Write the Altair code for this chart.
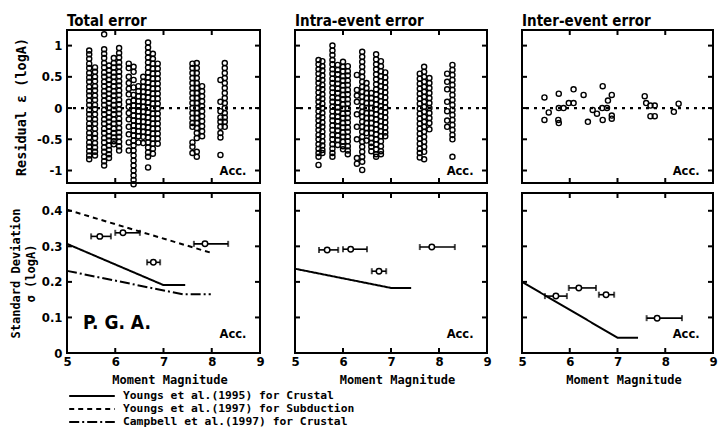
import altair as alt
import pandas as pd

# ---------------- data ----------------
X_TICKS = [6, 7, 8]
X_LABELS = [5, 6, 7, 8, 9]
RESID_TICKS = [-1, -0.5, 0, 0.5, 1]
SD_TICKS = [0.1, 0.2, 0.3, 0.4]
SD_LABELS = [0, 0.1, 0.2, 0.3, 0.4]

# Total error residuals: (moment magnitude, residuals)
TOTAL_COLUMNS = [
    (5.46, [0.92, 0.86, 0.79, 0.71, 0.64, 0.56, 0.49, 0.42, 0.34, 0.27, 0.2, 0.12, 0.05, -0.03, -0.1, -0.17, -0.25, -0.32, -0.4, -0.47, -0.55, -0.62, -0.69, -0.76, -0.82]),
    (5.58, [0.65, 0.58, 0.5, 0.43, 0.35, 0.28, 0.2, 0.13, 0.05, -0.02, -0.1, -0.18, -0.25, -0.33, -0.41, -0.48, -0.56, -0.63, -0.7, -0.76]),
    (5.77, [1.18, 0.94, 0.87, 0.8, 0.72, 0.65, 0.57, 0.5, 0.42, 0.35, 0.27, 0.2, 0.12, 0.05, -0.03, -0.1, -0.18, -0.25, -0.33, -0.4, -0.48, -0.55, -0.63, -0.7, -0.78, -0.85, -0.92]),
    (5.87, [0.68, 0.6, 0.53, 0.45, 0.38, 0.3, 0.23, 0.15, 0.08, 0.0, -0.07, -0.15, -0.22, -0.3, -0.37, -0.45, -0.52, -0.6, -0.67, -0.74, -0.8]),
    (5.97, [0.8, 0.72, 0.65, 0.57, 0.5, 0.42, 0.35, 0.27, 0.2, 0.12, 0.05, -0.03, -0.1, -0.18, -0.25, -0.33, -0.4, -0.47, -0.53, -0.58]),
    (6.08, [0.96, 0.88, 0.81, 0.73, 0.66, 0.58, 0.51, 0.43, 0.36, 0.28, 0.21, 0.13, 0.06, -0.02, -0.09, -0.17, -0.24, -0.32, -0.39, -0.46, -0.54, -0.61, -0.68]),
    (6.28, [0.71, 0.64, 0.5, 0.4, 0.31, 0.22, 0.1, 0.02, -0.08, -0.18, -0.3, -0.42, -0.55, -0.68]),
    (6.38, [0.66, 0.58, 0.45, 0.33, 0.21, 0.12, 0.04, -0.04, -0.12, -0.2, -0.28, -0.36, -0.44, -0.52, -0.6, -0.68, -0.76, -0.84, -0.92, -1.0, -1.08, -1.15, -1.22]),
    (6.48, [0.35, 0.27, 0.19, 0.11, 0.03, -0.05, -0.13, -0.21, -0.29, -0.37, -0.45, -0.55]),
    (6.58, [0.5, 0.42, 0.34, 0.26, 0.18, 0.1, 0.02, -0.06, -0.14, -0.22, -0.3, -0.38, -0.46, -0.56]),
    (6.68, [1.05, 0.97, 0.89, 0.81, 0.73, 0.65, 0.57, 0.49, 0.41, 0.33, 0.25, 0.17, 0.09, 0.01, -0.07, -0.15, -0.23, -0.31, -0.39, -0.47, -0.55, -0.63, -0.71, -0.78, -0.95]),
    (6.78, [0.87, 0.79, 0.71, 0.63, 0.55, 0.47, 0.39, 0.31, 0.23, 0.15, 0.07, -0.01, -0.09, -0.17, -0.25, -0.33, -0.41, -0.49, -0.57, -0.65, -0.73]),
    (6.88, [0.71, 0.63, 0.55, 0.47, 0.39, 0.31, 0.23, 0.15, 0.07, -0.01, -0.09, -0.17, -0.25, -0.33, -0.41, -0.49, -0.57]),
    (7.60, [0.71, 0.64, 0.56, 0.48, 0.4, 0.32, 0.24, 0.16, 0.08, 0.0, -0.08, -0.16, -0.24, -0.3, -0.55, -0.62, -0.72]),
    (7.69, [0.72, 0.64, 0.56, 0.48, 0.4, 0.32, 0.24, 0.16, 0.08, 0.0, -0.08, -0.16, -0.24, -0.32, -0.4, -0.48, -0.7, -0.78]),
    (7.80, [0.35, 0.27, 0.19, 0.11, 0.03, -0.05, -0.13, -0.21, -0.29, -0.37, -0.45]),
    (8.18, [0.45, 0.1, -0.05, -0.15, -0.22, -0.3, -0.4, -0.47, -0.75]),
    (8.27, [0.72, 0.64, 0.56, 0.48, 0.4, 0.32, 0.24, 0.16, 0.08, 0.0, -0.08, -0.15, -0.22, -0.3]),
]

# Intra-event residuals
INTRA_COLUMNS = [
    (5.49, [0.77, 0.7, 0.62, 0.55, 0.47, 0.4, 0.32, 0.25, 0.17, 0.1, 0.02, -0.05, -0.13, -0.2, -0.28, -0.35, -0.43, -0.5, -0.58, -0.65, -0.72, -0.78, -0.91]),
    (5.57, [0.75, 0.67, 0.6, 0.52, 0.45, 0.37, 0.3, 0.22, 0.15, 0.07, 0.0, -0.08, -0.15, -0.23, -0.3, -0.38, -0.45, -0.53, -0.6, -0.67, -0.72]),
    (5.78, [1.0, 0.92, 0.85, 0.77, 0.7, 0.62, 0.55, 0.47, 0.4, 0.32, 0.25, 0.17, 0.1, 0.02, -0.05, -0.13, -0.2, -0.28, -0.35, -0.43, -0.5, -0.58, -0.65, -0.72, -0.78]),
    (5.89, [0.69, 0.61, 0.54, 0.46, 0.39, 0.31, 0.24, 0.16, 0.09, 0.01, -0.06, -0.14, -0.21, -0.29, -0.36, -0.44, -0.51, -0.59]),
    (6.00, [0.74, 0.66, 0.59, 0.51, 0.44, 0.36, 0.29, 0.21, 0.14, 0.06, -0.01, -0.09, -0.16, -0.24, -0.31, -0.39, -0.46, -0.54, -0.61, -0.66]),
    (6.10, [0.67, 0.59, 0.52, 0.44, 0.37, 0.29, 0.22, 0.14, 0.07, -0.01, -0.08, -0.16, -0.23, -0.31, -0.38, -0.46, -0.53, -0.61, -0.68, -0.74]),
    (6.29, [0.53, 0.29, 0.2, 0.1, -0.1, -0.3, -0.5, -0.8, -0.89]),
    (6.40, [0.9, 0.82, 0.74, 0.66, 0.58, 0.5, 0.42, 0.34, 0.26, 0.18, 0.1, 0.02, -0.06, -0.14, -0.22, -0.3, -0.38, -0.46, -0.54, -0.62, -0.7, -0.78, -0.86, -0.99]),
    (6.49, [0.4, 0.32, 0.24, 0.16, 0.08, 0.0, -0.08, -0.16, -0.24, -0.32, -0.4, -0.52]),
    (6.59, [0.24, 0.16, 0.08, 0.0, -0.08, -0.16, -0.24, -0.32, -0.4, -0.48, -0.56, -0.62, -0.69]),
    (6.69, [0.86, 0.78, 0.7, 0.62, 0.54, 0.46, 0.38, 0.3, 0.22, 0.14, 0.06, -0.02, -0.1, -0.18, -0.26, -0.34, -0.42, -0.5, -0.58, -0.66, -0.74, -0.78]),
    (6.79, [0.75, 0.67, 0.59, 0.51, 0.43, 0.35, 0.27, 0.19, 0.11, 0.03, -0.05, -0.13, -0.21, -0.29, -0.37, -0.45, -0.53, -0.61, -0.69, -0.74]),
    (6.88, [0.57, 0.49, 0.41, 0.33, 0.25, 0.17, 0.09, 0.01, -0.07, -0.15, -0.23, -0.31, -0.39, -0.45]),
    (7.60, [0.55, 0.47, 0.39, 0.31, 0.23, 0.15, 0.07, -0.01, -0.09, -0.17, -0.25, -0.33, -0.41, -0.49, -0.57, -0.65, -0.72, -0.79]),
    (7.69, [0.66, 0.58, 0.5, 0.42, 0.34, 0.26, 0.18, 0.1, 0.02, -0.06, -0.14, -0.22, -0.3, -0.38, -0.46, -0.54, -0.62, -0.7, -0.82]),
    (7.80, [0.48, 0.4, 0.32, 0.24, 0.16, 0.08, 0.0, -0.08, -0.16, -0.24, -0.34]),
    (8.17, [0.55, 0.42, 0.3, 0.1, -0.05, -0.2, -0.3]),
    (8.28, [0.69, 0.61, 0.53, 0.45, 0.37, 0.29, 0.21, 0.13, 0.05, -0.03, -0.11, -0.19, -0.27, -0.35, -0.43, -0.5, -0.78]),
]

# Inter-event residuals
INTER_MAG = [5.47, 5.47, 5.56, 5.77, 5.77, 5.76, 5.77, 5.87, 5.98, 6.08, 6.08, 6.29, 6.38, 6.48,
             6.57, 6.68, 6.69, 6.69, 6.78, 6.80, 6.88, 6.88, 6.88, 7.57, 7.60, 7.69, 7.78, 7.69,
             7.78, 8.18, 8.28]
INTER_RESID = [0.17, -0.19, -0.07, 0.23, 0.0, -0.19, -0.24, 0.0, 0.08, 0.3, 0.08, 0.21, -0.22, -0.03,
               -0.09, 0.0, 0.35, -0.19, 0.0, 0.12, 0.21, -0.12, -0.17, 0.19, 0.08, 0.04, 0.04, -0.13,
               -0.13, -0.06, 0.07]

# Standard deviations with magnitude ranges
TOTAL_SD_MAG = [5.68, 6.16, 6.79, 7.86]
TOTAL_SD_LO = [5.50, 6.00, 6.66, 7.63]
TOTAL_SD_HI = [5.91, 6.51, 6.93, 8.34]
TOTAL_SD = [0.328, 0.338, 0.255, 0.307]

INTRA_SD_MAG = [5.67, 6.16, 6.75, 7.85]
INTRA_SD_LO = [5.50, 6.00, 6.60, 7.60]
INTRA_SD_HI = [5.90, 6.50, 6.90, 8.33]
INTRA_SD = [0.29, 0.292, 0.23, 0.298]

INTER_SD_MAG = [5.71, 6.19, 6.76, 7.83]
INTER_SD_LO = [5.48, 5.98, 6.61, 7.61]
INTER_SD_HI = [5.94, 6.55, 6.93, 8.35]
INTER_SD = [0.16, 0.183, 0.164, 0.098]

# Published models
MODEL_NAMES = ["Youngs et al.(1995) for Crustal",
               "Youngs et al.(1997) for Subduction",
               "Campbell et al.(1997) for Crustal"]
Y95_TOTAL_MAG = [5.0, 7.0, 7.45]
Y95_TOTAL_SD = [0.307, 0.191, 0.191]
Y97_MAG = [5.0, 8.03]
Y97_SD = [0.403, 0.28]
C97_MAG = [5.0, 7.4, 7.98]
C97_SD = [0.231, 0.165, 0.165]
Y95_INTRA_MAG = [5.0, 7.0, 7.42]
Y95_INTRA_SD = [0.237, 0.183, 0.183]
Y95_INTER_MAG = [5.0, 7.0, 7.43]
Y95_INTER_SD = [0.2, 0.043, 0.043]

# ---------------- styling ----------------
WIDTHS = [193, 192, 191]
TOP_H = 153
BOT_H = 160
MONO = "DejaVu Sans Mono"
COND = "DejaVu Sans Condensed"
TICK_LEN = 5

XS = alt.Scale(domain=[5, 9], nice=False, zero=False)
YS_TOP = alt.Scale(domain=[-1.2, 1.25], nice=False, zero=False)
YS_BOT = alt.Scale(domain=[0, 0.45], nice=False, zero=False)

LEGEND = alt.Legend(orient="none", legendX=18, legendY=359, title=None,
                    symbolType="M-4,0H4", symbolSize=130, symbolStrokeWidth=2,
                    symbolFillColor="transparent",
                    symbolStrokeColor="black", labelFont=MONO, labelFontSize=11.3,
                    labelFontWeight="bold", labelColor="black", labelOffset=24,
                    labelLimit=0, rowPadding=-1, padding=0)
DASH = alt.StrokeDash("model:N",
                      scale=alt.Scale(domain=MODEL_NAMES, range=[[1, 0], [5, 4], [10, 3, 2, 3]]),
                      legend=LEGEND)


def columns_df(cols):
    rows = [{"mag": m, "resid": r} for m, ys in cols for r in ys]
    return pd.DataFrame(rows)


def frame_ticks(x, y, yfield, yticks, width, height):
    rule = dict(color="black", strokeWidth=2)
    yt = alt.Chart(pd.DataFrame({yfield: yticks}))
    xt = alt.Chart(pd.DataFrame({"mag": X_TICKS}))
    return [
        yt.mark_rule(**rule).encode(y=y, x=alt.value(0), x2=alt.value(TICK_LEN)),
        yt.mark_rule(**rule).encode(y=y, x=alt.value(width - TICK_LEN), x2=alt.value(width)),
        xt.mark_rule(**rule).encode(x=x, y=alt.value(0), y2=alt.value(TICK_LEN)),
        xt.mark_rule(**rule).encode(x=x, y=alt.value(height - TICK_LEN), y2=alt.value(height)),
    ]


def acc_text(x, y, yfield, yval):
    df = pd.DataFrame({"mag": [8.72], yfield: [yval], "label": ["Acc."]})
    return alt.Chart(df).mark_text(align="right", baseline="middle", font="DejaVu Sans",
                                   fontWeight="bold", fontSize=11.5, color="black").encode(
        x=x, y=y, text="label:N")


def top_panel(df, width, title, first):
    x = alt.X("mag:Q", scale=XS, axis=None)
    if first:
        yaxis = alt.Axis(values=RESID_TICKS, ticks=False, domain=False, grid=False,
                         labelExpr="(datum.value < 0 ? '-' : '') + format(abs(datum.value), '~g')",
                         labelFont=COND, labelFontSize=13, labelFontWeight="bold",
                         labelColor="black", labelPadding=5, labelFlush=False, labelOverlap=False,
                         title="Residual  \u03b5 (logA)", titleFont=MONO, titleFontSize=13.5,
                         titleFontWeight="bold", titleColor="black", titlePadding=8)
    else:
        yaxis = None
    y = alt.Y("resid:Q", scale=YS_TOP, axis=yaxis)
    zero = alt.Chart(pd.DataFrame({"resid": [0]})).mark_rule(
        color="black", strokeWidth=2.2, strokeDash=[3, 5]).encode(y=y)
    pts = alt.Chart(df).mark_point(shape="circle", filled=False, color="black", size=26,
                                   strokeWidth=1.4, opacity=1).encode(x=x, y=y)
    layers = [zero, pts] + frame_ticks(x, y, "resid", RESID_TICKS, width, TOP_H) + \
        [acc_text(x, y, "resid", -1.03)]
    return alt.layer(*layers).properties(
        width=width, height=TOP_H,
        title=alt.Title(title, anchor="start", frame="group", font=COND, fontSize=15,
                        fontWeight="bold", color="black", offset=0))


def bottom_panel(width, sd_mag, sd_lo, sd_hi, sd, models, first):
    xaxis = alt.Axis(values=X_LABELS, ticks=False, domain=False, grid=False, format="d",
                     labelFont=COND, labelFontSize=13, labelFontWeight="bold", labelColor="black",
                     labelPadding=2, labelFlush=False, labelOverlap=False,
                     title="Moment Magnitude", titleFont=MONO, titleFontSize=12,
                     titleFontWeight="bold", titleColor="black", titlePadding=6,
                     titleX=width / 2 + 6, titleAlign="center")
    x = alt.X("mag:Q", scale=XS, axis=xaxis)
    if first:
        yaxis = alt.Axis(values=SD_LABELS, ticks=False, domain=False, grid=False,
                         labelExpr="format(datum.value, '~g')",
                         labelFont=COND, labelFontSize=13, labelFontWeight="bold",
                         labelColor="black", labelPadding=5, labelFlush=False, labelOverlap=False,
                         title=["Standard Deviation", "\u03c3 (logA)"], titleFont=MONO,
                         titleFontSize=12, titleFontWeight="bold", titleColor="black",
                         titlePadding=4, titleLineHeight=15)
    else:
        yaxis = None
    y = alt.Y("sd:Q", scale=YS_BOT, axis=yaxis)

    sd_df = pd.DataFrame({"mag": sd_mag, "lo": sd_lo, "hi": sd_hi, "sd": sd})
    base = alt.Chart(sd_df)
    bar = base.mark_rule(color="black", strokeWidth=1.6).encode(
        x=alt.X("lo:Q", scale=XS, axis=xaxis), x2="hi:Q", y=y)
    cap_lo = base.mark_tick(color="black", orient="vertical", size=6, thickness=2).encode(
        x=alt.X("lo:Q", scale=XS, axis=xaxis), y=y)
    cap_hi = base.mark_tick(color="black", orient="vertical", size=6, thickness=2).encode(
        x=alt.X("hi:Q", scale=XS, axis=xaxis), y=y)
    pts = base.mark_point(shape="circle", filled=True, fill="white", stroke="black",
                          strokeWidth=1.5, size=30, opacity=1).encode(x=x, y=y)

    rows = []
    for name, mags, sds in models:
        for m, s in zip(mags, sds):
            rows.append({"model": name, "mag": m, "sd": s})
    lines = alt.Chart(pd.DataFrame(rows)).mark_line(color="black", strokeWidth=2).encode(
        x=x, y=y, strokeDash=DASH, detail="model:N")

    layers = [lines, bar, cap_lo, cap_hi, pts] + \
        frame_ticks(x, y, "sd", SD_TICKS, width, BOT_H) + [acc_text(x, y, "sd", 0.05)]
    if first:
        pga = alt.Chart(pd.DataFrame({"mag": [5.33], "sd": [0.085], "label": ["P. G. A."]})
                        ).mark_text(align="left", baseline="middle", font=COND, fontSize=19,
                                    fontWeight="bold", color="black").encode(
            x=x, y=y, text="label:N")
        layers.append(pga)
    return alt.layer(*layers).properties(width=width, height=BOT_H)


panels = [
    top_panel(columns_df(TOTAL_COLUMNS), WIDTHS[0], "Total error", True),
    top_panel(columns_df(INTRA_COLUMNS), WIDTHS[1], "Intra-event error", False),
    top_panel(pd.DataFrame({"mag": INTER_MAG, "resid": INTER_RESID}), WIDTHS[2],
              "Inter-event error", False),
    bottom_panel(WIDTHS[0], TOTAL_SD_MAG, TOTAL_SD_LO, TOTAL_SD_HI, TOTAL_SD,
                 [(MODEL_NAMES[0], Y95_TOTAL_MAG, Y95_TOTAL_SD),
                  (MODEL_NAMES[1], Y97_MAG, Y97_SD),
                  (MODEL_NAMES[2], C97_MAG, C97_SD)], True),
    bottom_panel(WIDTHS[1], INTRA_SD_MAG, INTRA_SD_LO, INTRA_SD_HI, INTRA_SD,
                 [(MODEL_NAMES[0], Y95_INTRA_MAG, Y95_INTRA_SD)], False),
    bottom_panel(WIDTHS[2], INTER_SD_MAG, INTER_SD_LO, INTER_SD_HI, INTER_SD,
                 [(MODEL_NAMES[0], Y95_INTER_MAG, Y95_INTER_SD)], False),
]

chart = alt.concat(*panels, columns=3, spacing={"row": 10, "column": 35},
                   bounds="flush").properties(
    padding={"left": 8, "top": 13, "right": 0, "bottom": 0}, background="white"
).configure_view(stroke="black", strokeWidth=2)

chart.save("out.html", embed_options={"renderer": "svg", "actions": False})
